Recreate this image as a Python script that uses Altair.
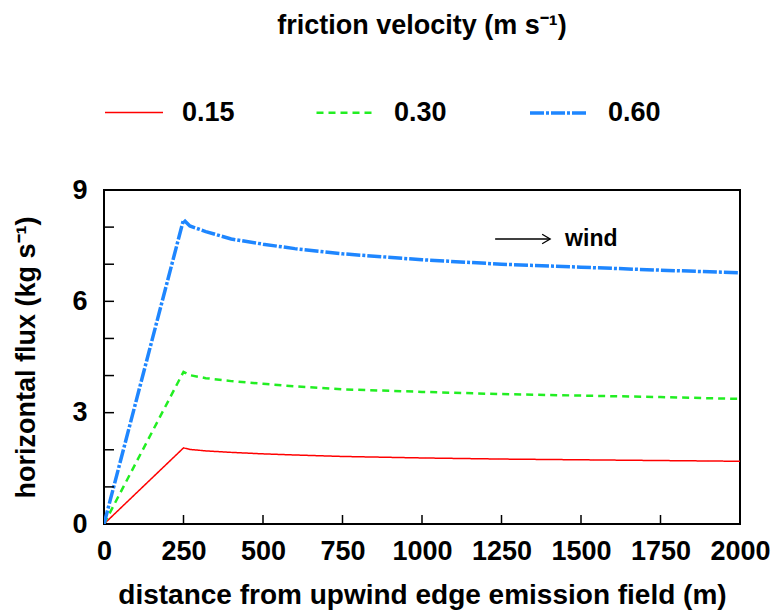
import altair as alt
import pandas as pd

# ---- data ----
distance = [0, 250, 270, 320, 400, 500, 600, 750, 1000, 1250, 1500, 1750, 2000]
flux_015 = [0, 2.05, 2.01, 1.97, 1.93, 1.89, 1.86, 1.82, 1.78, 1.75, 1.73, 1.71, 1.69]
flux_030 = [0, 4.10, 4.01, 3.93, 3.85, 3.78, 3.71, 3.63, 3.56, 3.50, 3.46, 3.42, 3.37]
flux_060 = [0, 8.20, 8.03, 7.88, 7.68, 7.54, 7.42, 7.28, 7.12, 7.00, 6.92, 6.84, 6.77]
series = ["0.15", "0.30", "0.60"]
colors = ["#ff0000", "#22ee22", "#1e86ff"]
dashes = [[1, 0], [7, 5], [14, 2, 3, 2]]
widths = [1.5, 3.5, 4]

x_tick_labels = [0, 250, 500, 750, 1000, 1250, 1500, 1750, 2000]
y_tick_labels = [0, 3, 6, 9]
x_minor = [250, 500, 750, 1000, 1250, 1500, 1750]
y_minor = [1, 2, 3, 4, 5, 6, 7, 8]

arrow_x = [1230]
arrow_x2 = [1403]
arrow_y = [7.68]
wind_x = [1450]

FONT = "Liberation Sans"

rows = []
for s, vals in zip(series, [flux_015, flux_030, flux_060]):
    for d, v in zip(distance, vals):
        rows.append({"distance": d, "flux": v, "u": s})
df = pd.DataFrame(rows)

leg = dict(
    title=None, orient="top", direction="horizontal", symbolType="stroke",
    symbolSize=3364, labelFontSize=27, labelFont=FONT, labelFontWeight="bold",
    labelOffset=18, columnPadding=76, offset=64, labelColor="black",
)

xscale = alt.Scale(domain=[0, 2000], nice=False)
yscale = alt.Scale(domain=[0, 9], nice=False)
xaxis = alt.Axis(values=x_tick_labels, format="d", title="distance from upwind edge emission field (m)",
                 titleFontSize=28, labelPadding=14, titlePadding=17, labelFlush=False)
yaxis = alt.Axis(values=y_tick_labels, format="d", title="horizontal flux (kg s⁻¹)",
                 titleFontSize=27, labelPadding=17, titlePadding=31)

lines = alt.Chart(df).mark_line(clip=True).encode(
    x=alt.X("distance:Q", scale=xscale, axis=xaxis),
    y=alt.Y("flux:Q", scale=yscale, axis=yaxis),
    color=alt.Color("u:N", scale=alt.Scale(domain=series, range=colors), legend=alt.Legend(**leg)),
    strokeDash=alt.StrokeDash("u:N", scale=alt.Scale(domain=series, range=dashes), legend=alt.Legend(**leg)),
    strokeWidth=alt.StrokeWidth("u:N", scale=alt.Scale(domain=series, range=widths), legend=alt.Legend(**leg)),
)

yticks = alt.Chart(pd.DataFrame({"yt": y_minor})).mark_rule(color="black", strokeWidth=1.5).encode(
    y=alt.Y("yt:Q", scale=yscale, axis=yaxis), x=alt.value(0), x2=alt.value(10))
xticks = alt.Chart(pd.DataFrame({"xt": x_minor})).mark_rule(color="black", strokeWidth=1.5).encode(
    x=alt.X("xt:Q", scale=xscale, axis=xaxis), y=alt.value(334), y2=alt.value(325))

ann = pd.DataFrame({"x1": arrow_x, "x2": arrow_x2, "y": arrow_y, "tx": wind_x, "label": ["wind"]})
arrow_line = alt.Chart(ann).mark_rule(color="black", strokeWidth=1.3).encode(
    x=alt.X("x1:Q", scale=xscale, axis=xaxis), x2="x2:Q", y=alt.Y("y:Q", scale=yscale, axis=yaxis))
arrow_head = alt.Chart(ann).mark_point(shape="M-1,-0.6L0,0L-1,0.6", filled=False, color="black",
                                       strokeWidth=1.3, size=256, opacity=1).encode(
    x=alt.X("x2:Q", scale=xscale, axis=xaxis), y=alt.Y("y:Q", scale=yscale, axis=yaxis))
wind_text = alt.Chart(ann).mark_text(align="left", baseline="middle", font=FONT, fontWeight="bold",
                                     fontSize=23, color="black").encode(
    x=alt.X("tx:Q", scale=xscale, axis=xaxis), y=alt.Y("y:Q", scale=yscale, axis=yaxis), text="label:N")

chart = alt.layer(lines, yticks, xticks, arrow_line, arrow_head, wind_text).properties(
    width=636, height=334,
    title=alt.TitleParams("friction velocity (m s⁻¹)", font=FONT, fontSize=27, fontWeight="bold",
                          anchor="middle", offset=42, color="black"),
    autosize=alt.AutoSizeParams(type="none"),
    padding={"left": 104, "top": 190, "right": 36, "bottom": 87},
    background="white",
    view=alt.ViewBackground(stroke="black", strokeWidth=2),
).configure_view(stroke="black", strokeWidth=2).configure_axis(
    domain=False, ticks=False, grid=False, labelFont=FONT, labelFontSize=27, labelFontWeight="bold",
    labelColor="black", titleFont=FONT, titleFontWeight="bold", titleColor="black",
)

chart.save("out.html", embed_options={"renderer": "svg", "actions": False})
